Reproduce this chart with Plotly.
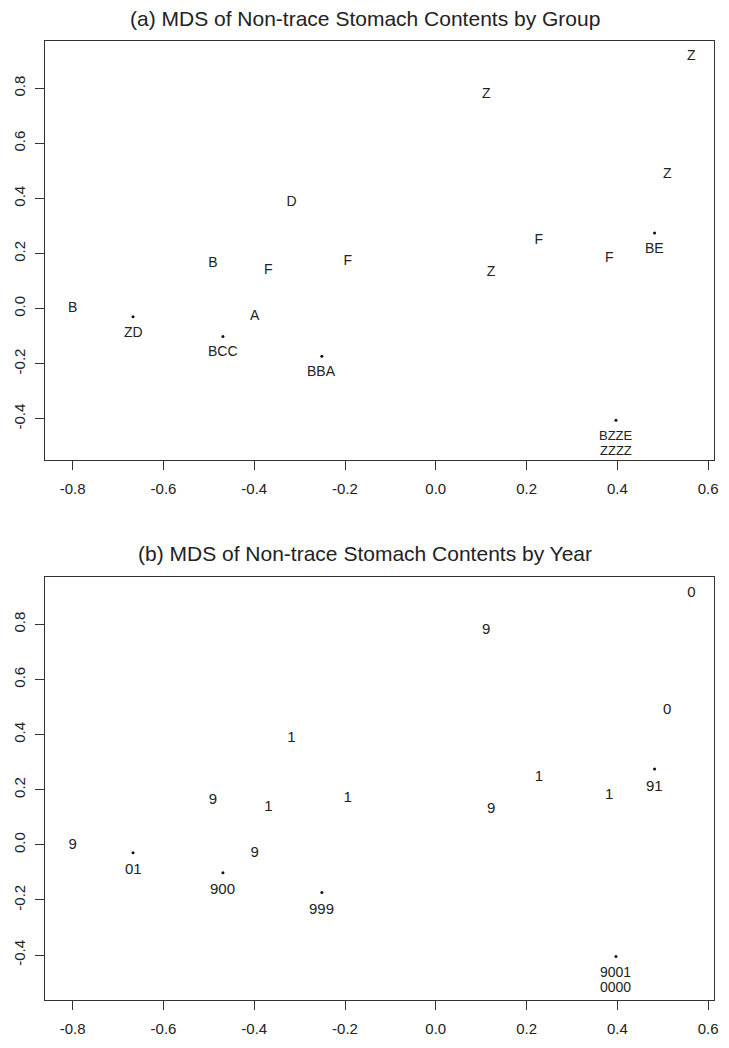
import plotly.graph_objects as go
from collections import OrderedDict

# MDS coordinates (one entry per fish stomach sample)
mds_x = [0.563, 0.111, 0.510, -0.318, 0.227, 0.482, 0.482, 0.382, -0.194, -0.491,
         -0.369, 0.122, -0.800, -0.399, -0.667, -0.667, -0.469, -0.469, -0.469,
         -0.251, -0.251, -0.251, 0.397, 0.397, 0.397, 0.397, 0.397, 0.397, 0.397, 0.397]
mds_y = [0.914, 0.777, 0.488, 0.387, 0.246, 0.275, 0.275, 0.181, 0.170, 0.163,
         0.137, 0.130, 0.000, -0.029, -0.029, -0.029, -0.101, -0.101, -0.101,
         -0.173, -0.173, -0.173, -0.405, -0.405, -0.405, -0.405, -0.405, -0.405, -0.405, -0.405]
group_labels = ["Z", "Z", "Z", "D", "F", "B", "E", "F", "F", "B",
                "F", "Z", "B", "A", "Z", "D", "B", "C", "C",
                "B", "B", "A", "B", "Z", "Z", "E", "Z", "Z", "Z", "Z"]
year_labels = ["0", "9", "0", "1", "1", "9", "1", "1", "1", "9",
               "1", "9", "9", "9", "0", "1", "9", "0", "0",
               "9", "9", "9", "9", "0", "0", "1", "0", "0", "0", "0"]

x_ticks = [-0.8, -0.6, -0.4, -0.2, 0.0, 0.2, 0.4, 0.6]
x_ticktext = ["-0.8", "-0.6", "-0.4", "-0.2", "0.0", "0.2", "0.4", "0.6"]
y_ticks = [-0.4, -0.2, 0.0, 0.2, 0.4, 0.6, 0.8]
y_ticktext = ["-0.4", "-0.2", "0.0", "0.2", "0.4", "0.6", "0.8"]

titles = ["(a) MDS of Non-trace Stomach Contents by Group",
          "(b) MDS of Non-trace Stomach Contents by Year"]

W, H = 729, 1048
ML, MR, MT, MB = 42, 11, 41, 43
PH = H - MT - MB


def py(pix):
    return (H - MB - pix) / PH


FONT = "Liberation Sans, Arial, sans-serif"
fig = go.Figure()

panels = [
    dict(labels=group_labels, xa="x", ya="y", fs=14, cfs=13, dom=[py(462), 1.0], lsp=15, off=15),
    dict(labels=year_labels, xa="x2", ya="y2", fs=15, cfs=14, dom=[0.0, py(580)], lsp=15, off=16),
]

annotations = []
for k, p in enumerate(panels):
    clusters = OrderedDict()
    for xi, yi, lab in zip(mds_x, mds_y, p["labels"]):
        clusters.setdefault((xi, yi), []).append(lab)
    sx, sy, st = [], [], []
    dx, dy = [], []
    for (xi, yi), labs in clusters.items():
        if len(labs) == 1:
            sx.append(xi); sy.append(yi); st.append(labs[0])
        else:
            dx.append(xi); dy.append(yi)
            s = "".join(labs)
            lines = [s[i:i + 4] for i in range(0, len(s), 4)]
            fsz = p["fs"] if len(lines) == 1 else p["cfs"]
            for j, line in enumerate(lines):
                annotations.append(dict(
                    x=xi, y=yi, xref=p["xa"], yref=p["ya"], text=line,
                    showarrow=False, yshift=-(p["off"] + p["lsp"] * j),
                    font=dict(family=FONT, size=fsz, color="#222")))
    fig.add_trace(go.Scatter(x=sx, y=sy, text=st, mode="text",
                             textfont=dict(family=FONT, size=p["fs"], color="#222"),
                             xaxis=p["xa"], yaxis=p["ya"], showlegend=False,
                             hoverinfo="skip"))
    fig.add_trace(go.Scatter(x=dx, y=dy, mode="markers",
                             marker=dict(size=3, color="#111"),
                             xaxis=p["xa"], yaxis=p["ya"], showlegend=False,
                             hoverinfo="skip"))

ax_common = dict(showline=True, mirror=True, linecolor="#333", linewidth=1,
                 ticks="outside", ticklen=9, tickcolor="#333", showgrid=False,
                 zeroline=False, tickfont=dict(family=FONT, size=15, color="#222"))

fig.update_layout(
    xaxis=dict(domain=[0, 1], anchor="y", range=[-0.861, 0.613], tickvals=x_ticks,
               ticktext=x_ticktext, ticklabelstandoff=6, **ax_common),
    yaxis=dict(domain=panels[0]["dom"], anchor="x", range=[-0.549, 0.972],
               tickvals=y_ticks, ticktext=y_ticktext, tickangle=-90,
               ticklabelstandoff=4, **ax_common),
    xaxis2=dict(domain=[0, 1], anchor="y2", range=[-0.861, 0.613], tickvals=x_ticks,
                ticktext=x_ticktext, ticklabelstandoff=6, **ax_common),
    yaxis2=dict(domain=panels[1]["dom"], anchor="x2", range=[-0.563, 0.971],
                tickvals=y_ticks, ticktext=y_ticktext, tickangle=-90,
                ticklabelstandoff=4, **ax_common),
)

tx = (365 - ML) / (W - ML - MR)
annotations.append(dict(x=tx, y=py(18), xref="paper", yref="paper", text=titles[0],
                        xanchor="center", yanchor="middle", showarrow=False,
                        font=dict(family=FONT, size=21, color="#222")))
annotations.append(dict(x=tx, y=py(556), xref="paper", yref="paper", text=titles[1],
                        xanchor="center", yanchor="middle", showarrow=False,
                        font=dict(family=FONT, size=21, color="#222")))

fig.update_layout(width=W, height=H, margin=dict(l=ML, r=MR, t=MT, b=MB),
                  paper_bgcolor="white", plot_bgcolor="white",
                  annotations=annotations)

fig.write_html("out.html")
